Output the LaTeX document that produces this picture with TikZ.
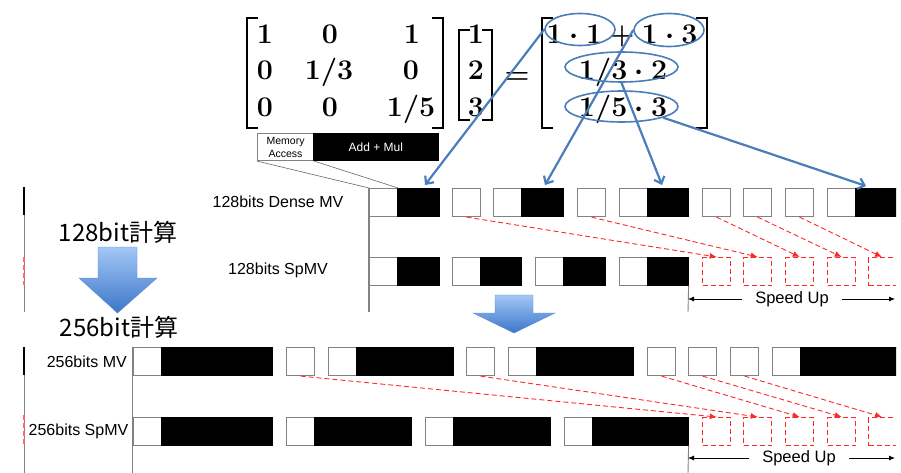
\RequirePackage{fix-cm}
\documentclass[tikz,border=0pt]{standalone}
\usepackage[no-math]{fontspec}
\newfontfamily\lab{Liberation Sans}
\newfontfamily\jp{Noto Sans CJK JP}
\usetikzlibrary{arrows.meta,shapes.geometric,calc}
\definecolor{bl}{RGB}{74,126,187}
\definecolor{gr}{RGB}{130,130,130}
\definecolor{rd}{RGB}{255,40,40}
\tikzset{
  wc/.style={draw=gr, line width=1.1pt, fill=white, inner sep=0pt, minimum height=28pt, minimum width=28pt, anchor=north west},
  bc/.style={draw=black, fill=black, line width=0.6pt, inner sep=0pt, minimum height=28pt, anchor=north west},
  dc/.style={draw=rd, dash pattern=on 5pt off 3pt, line width=1.4pt, inner sep=0pt, minimum height=28pt, minimum width=28pt, anchor=north west},
  rarr/.style={draw=rd, dash pattern=on 5pt off 3pt, line width=0.9pt, -{Latex[length=7pt,width=6pt]}},
  barr/.style={draw=bl, line width=2.2pt, -{Straight Barb[length=6pt,width=11pt,line width=2.2pt]}},
  ell/.style={draw=bl, line width=1.6pt, ellipse, inner sep=0pt},
  lbl/.style={font=\lab\fontsize{16}{18}\selectfont, inner sep=0pt},
  mth/.style={font=\fontsize{28.5}{32}\selectfont\boldmath, inner sep=0pt, anchor=base},
  brk/.style={line width=1.8pt, line cap=rect},
  axis/.style={draw=gr, line width=1.1pt},
  jpt/.style={font=\jp\fontsize{24}{28}\selectfont, inner sep=0pt},
  blk/.style={top color={rgb,255:red,163;green,199;blue,247}, bottom color={rgb,255:red,60;green,118;blue,200}, draw={rgb,255:red,90;green,140;blue,210}, line width=0.4pt}
}
\begin{document}
\begin{tikzpicture}[x=1pt,y=-1pt]
\useasboundingbox (0,0) rectangle (901,473);
\fill[white] (0,0) rectangle (901,473);
\begin{scope}
\clip (0,0) rectangle (896,473);

% ---------- matrix equation ----------
\draw[brk] (257,18) -- (247,18) -- (247,128) -- (257,128);
\draw[brk] (433,18) -- (443,18) -- (443,128) -- (433,128);
\draw[brk] (469,30) -- (459,30) -- (459,120) -- (469,120);
\draw[brk] (483,30) -- (492,30) -- (492,120) -- (483,120);
\draw[brk] (552,18) -- (542,18) -- (542,128) -- (552,128);
\draw[brk] (697,18) -- (707,18) -- (707,128) -- (697,128);

\node[mth] (a11) at (265,44) {$1$};
\node[mth] (a12) at (330,44) {$0$};
\node[mth] (a13) at (412,44) {$1$};
\node[mth] (a21) at (265,79.5) {$0$};
\node[mth] (a22) at (329,79.5) {$1/3$};
\node[mth] (a23) at (411,79.5) {$0$};
\node[mth] (a31) at (265,116.5) {$0$};
\node[mth] (a32) at (330,116.5) {$0$};
\node[mth] (a33) at (411,116.5) {$1/5$};
\node[mth] (v1) at (476,44) {$1$};
\node[mth] (v2) at (476,79.5) {$2$};
\node[mth] (v3) at (476,116.5) {$3$};
\node[mth] (eq) at (517,84) {$=$};
\node[mth] (r1) at (622,44) {$1\cdot1+1\cdot3$};
\node[mth] (r2) at (623,79.5) {$1/3\cdot2$};
\node[mth] (r3) at (623,116.5) {$1/5\cdot3$};

\node[ell, minimum width=70pt, minimum height=32pt] (e1) at (580,29.5) {};
\node[ell, minimum width=70pt, minimum height=33pt] (e2) at (669,30) {};
\node[ell, minimum width=113pt, minimum height=30pt] (e3) at (621.5,67) {};
\node[ell, minimum width=113pt, minimum height=31pt] (e4) at (621.5,106.5) {};

% ---------- legend ----------
\node[wc, minimum width=56pt, minimum height=27pt, align=center, font=\lab\fontsize{10.5}{13}\selectfont] (mem) at (257,133) {Memory\\Access};
\node[bc, minimum width=125pt, minimum height=27pt, text=white, font=\lab\fontsize{12}{14}\selectfont] (am) at (313,133) {Add + Mul};

% ---------- left fragments ----------
\draw[axis, line width=1pt] (24,215) -- (24,312);
\draw[black, line width=2.2pt] (24,187) -- (24,215);
\draw[rd!70, line width=1.5pt, dash pattern=on 5pt off 3pt] (24,257) -- (24,285);
\draw[axis, line width=1pt] (24,375) -- (24,473);
\draw[black, line width=2.2pt] (24,347) -- (24,375);
\draw[rd!70, line width=1.5pt, dash pattern=on 5pt off 3pt] (24,415) -- (24,445);

% ---------- 128-bit rows ----------
\draw[axis] (369,188) -- (369,312);
\node[lbl] (l1) at (278,202) {128bits Dense MV};
\node[lbl] (l2) at (278,270) {128bits SpMV};

\node[wc] (d1w) at (369,188) {};
\node[bc, minimum width=41.5pt] (d1b) at (397,188) {};
\node[wc] (d2) at (452,188) {};
\node[wc] (d3w) at (493,188) {};
\node[bc, minimum width=41.5pt] (d3b) at (521,188) {};
\node[wc] (d4) at (577,188) {};
\node[wc] (d5w) at (619,188) {};
\node[bc, minimum width=41pt] (d5b) at (647,188) {};
\node[wc] (d6) at (702,188) {};
\node[wc] (d7) at (743,188) {};
\node[wc] (d8) at (785,188) {};
\node[wc] (d9w) at (827,188) {};
\node[bc, minimum width=50pt] (d9b) at (855,188) {};

\node[wc] (s1w) at (369,257) {};
\node[bc, minimum width=41.5pt] (s1b) at (397,257) {};
\node[wc] (s2w) at (452,257) {};
\node[bc, minimum width=41pt] (s2b) at (480,257) {};
\node[wc] (s3w) at (535,257) {};
\node[bc, minimum width=42pt] (s3b) at (563,257) {};
\node[wc] (s4w) at (619,257) {};
\node[bc, minimum width=41pt] (s4b) at (647,257) {};
\node[dc] (q1) at (702,257) {};
\node[dc] (q2) at (743,257) {};
\node[dc] (q3) at (785,257) {};
\node[dc] (q4) at (827,257) {};
\node[dc, minimum width=34pt] (q5) at (868,257) {};

\draw[rarr] (d2.south) -- (q1.north);
\draw[rarr] (d4.south) -- (q2.north);
\draw[rarr] (d6.south) -- (q3.north);
\draw[rarr] (d7.south) -- (q4.north);
\draw[rarr] (d8.south) -- ($(q5.north west)+(14,0)$);

\coordinate (su1a) at (688,312);
\coordinate (su1b) at (895,299);
\draw[axis, line width=0.9pt] (s4b.south east) -- (su1a);
\draw[line width=0.8pt, {Latex[length=6pt,width=5pt]}-{Latex[length=6pt,width=5pt]}] (688,299) -- (su1b);
\node[lbl, font=\lab\fontsize{16.5}{18}\selectfont, fill=white, inner xsep=13pt, inner ysep=1pt] (sp1) at (792,299) {Speed Up};

% legend leader lines
\draw[gr!80!black, line width=0.6pt] (mem.south west) -- (d1w.north west);
\draw[gr!80!black, line width=0.6pt] (mem.south east) -- (d1w.north east);

% ---------- 256-bit rows ----------
\draw[axis] (132.7,347) -- (132.7,473);
\node[lbl, anchor=east] (l3) at (127,362) {256bits MV};
\node[lbl, anchor=east] (l4) at (128.5,431) {256bits SpMV};

\node[wc] (m1w) at (132.7,347) {};
\node[bc, minimum width=111pt] (m1b) at (161,347) {};
\node[wc] (m2) at (286,347) {};
\node[wc] (m3w) at (328,347) {};
\node[bc, minimum width=97pt] (m3b) at (356,347) {};
\node[wc] (m4) at (466,347) {};
\node[wc] (m5w) at (508,347) {};
\node[bc, minimum width=97pt] (m5b) at (536,347) {};
\node[wc] (m6) at (647,347) {};
\node[wc] (m7) at (688,347) {};
\node[wc] (m8) at (730,347) {};
\node[wc] (m9w) at (772,347) {};
\node[bc, minimum width=110pt] (m9b) at (800,347) {};

\node[wc] (p1w) at (132.7,417) {};
\node[bc, minimum width=111pt] (p1b) at (161,417) {};
\node[wc] (p2w) at (286,417) {};
\node[bc, minimum width=97pt] (p2b) at (314,417) {};
\node[wc] (p3w) at (424.5,417) {};
\node[bc, minimum width=97pt] (p3b) at (452.7,417) {};
\node[wc] (p4w) at (563.5,417) {};
\node[bc, minimum width=96.3pt] (p4b) at (591.7,417) {};
\node[dc] (u1) at (702,417) {};
\node[dc] (u2) at (743,417) {};
\node[dc] (u3) at (785,417) {};
\node[dc] (u4) at (827,417) {};
\node[dc, minimum width=34pt] (u5) at (868,417) {};

\draw[rarr] (m2.south) -- (u1.north);
\draw[rarr] (m4.south) -- (u2.north);
\draw[rarr] (m6.south) -- (u3.north);
\draw[rarr] (m7.south) -- (u4.north);
\draw[rarr] (m8.south) -- ($(u5.north west)+(14,0)$);

\coordinate (su2a) at (688,473);
\coordinate (su2b) at (895,458);
\draw[axis, line width=0.9pt] (p4b.south east) -- (su2a);
\draw[line width=0.8pt, {Latex[length=6pt,width=5pt]}-{Latex[length=6pt,width=5pt]}] (688,458) -- (su2b);
\node[lbl, font=\lab\fontsize{16.5}{18}\selectfont, fill=white, inner xsep=13pt, inner ysep=1pt] (sp2) at (799,458) {Speed Up};

% ---------- block arrows ----------
\node[jpt] (t128) at (118,232) {128bit計算};
\node[jpt] (t256) at (119,327) {256bit計算};
\shade[blk] (98,247) -- (137,247) -- (137,278) -- (157,278) -- (117.5,313) -- (79,278) -- (98,278) -- cycle;
\shade[blk] (495,295) -- (533,295) -- (533,313) -- (555,313) -- (514,333) -- (473,313) -- (495,313) -- cycle;

% ---------- blue arrows ----------
\coordinate (t1) at (425,185);
\coordinate (t2) at (545,185);
\coordinate (t3) at (662,185);
\coordinate (t4) at (866,186);
\draw[barr] (e1.west) -- (t1);
\draw[barr] (e2.west) -- (t2);
\draw[barr] (e3.south) -- (t3);
\draw[barr] (e4.-15) -- (t4);
\end{scope}
\end{tikzpicture}
\end{document}
